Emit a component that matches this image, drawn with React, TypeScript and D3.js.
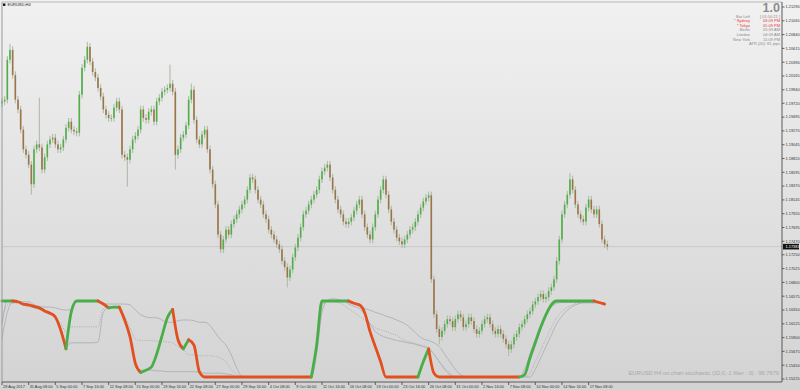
import React from 'react';
import * as d3 from 'd3';

const W = 800;
const H = 390;

// ---------- DATA ----------
const symbolTitle = 'EURUSD,H4';
const firstOpen = 1.1972;
const closes = [
  1.1975, 1.1978, 1.2043, 1.2059, 1.2018, 1.1978, 1.1962, 1.1929, 1.1897, 1.1888,
  1.1872, 1.1840, 1.1897, 1.1905, 1.1900, 1.1864, 1.1884, 1.1905, 1.1913, 1.1916,
  1.1905, 1.1897, 1.1900, 1.1913, 1.1932, 1.1942, 1.1929, 1.1926, 1.1924, 1.1986,
  1.2030, 1.2043, 1.2064, 1.2040, 1.2023, 1.2014, 1.1997, 1.1983, 1.1962, 1.1953,
  1.1948, 1.1948, 1.1965, 1.1975, 1.1962, 1.1888, 1.1884, 1.1880, 1.1897, 1.1913,
  1.1919, 1.1929, 1.1962, 1.1948, 1.1945, 1.1958, 1.1962, 1.1942, 1.1975, 1.1981,
  1.1991, 1.1994, 1.1997, 1.2004, 1.1991, 1.1888, 1.1897, 1.1916, 1.1921, 1.1936,
  1.1978, 1.1994, 1.1945, 1.1913, 1.1905, 1.1921, 1.1929, 1.1897, 1.1864, 1.1840,
  1.1807, 1.1758, 1.1734, 1.1750, 1.1766, 1.1758, 1.1775, 1.1783, 1.1791, 1.1799,
  1.1807, 1.1815, 1.1831, 1.1851, 1.1848, 1.1831, 1.1815, 1.1807, 1.1791, 1.1783,
  1.1766, 1.1758, 1.1750, 1.1742, 1.1734, 1.1715, 1.1705, 1.1688, 1.1701, 1.1721,
  1.1737, 1.1753, 1.1770, 1.1791, 1.1797, 1.1807, 1.1815, 1.1823, 1.1831, 1.1848,
  1.1861, 1.1867, 1.1872, 1.1851, 1.1831, 1.1815, 1.1799, 1.1791, 1.1779, 1.1775,
  1.1779, 1.1786, 1.1797, 1.1807, 1.1815, 1.1791, 1.1770, 1.1758, 1.1750, 1.1770,
  1.1791, 1.1815, 1.1831, 1.1848, 1.1823, 1.1799, 1.1779, 1.1766, 1.1753, 1.1747,
  1.1742, 1.1750, 1.1758, 1.1766, 1.1770, 1.1779, 1.1791, 1.1802, 1.1812, 1.1818,
  1.1822, 1.1685, 1.1628, 1.1604, 1.1591, 1.1601, 1.1612, 1.1620, 1.1617, 1.1607,
  1.1620, 1.1628, 1.1623, 1.1607, 1.1612, 1.1623, 1.1617, 1.1604, 1.1596, 1.1601,
  1.1612, 1.1620, 1.1623, 1.1612, 1.1601, 1.1596, 1.1604, 1.1596, 1.1588, 1.1579,
  1.1571, 1.1579, 1.1591, 1.1596, 1.1607, 1.1612, 1.1620, 1.1628, 1.1633, 1.1644,
  1.1649, 1.1656, 1.1661, 1.1653, 1.1656, 1.1666, 1.1672, 1.1685, 1.1715, 1.1750,
  1.1791, 1.1807, 1.1823, 1.1848, 1.1831, 1.1807, 1.1791, 1.1783, 1.1779, 1.1802,
  1.1815, 1.1799, 1.1791, 1.1799, 1.1775, 1.1750, 1.1742, 1.17383,
];
// notable wick extremes: [candle index, price]
const wickSpikes: [number, number][] = [
  [3, 1.2069], [11, 1.1823], [14, 1.1981], [32, 1.2072], [47, 1.1836],
  [63, 1.2035], [65, 1.1864], [71, 1.2004], [107, 1.1672], [164, 1.1579], [190, 1.1560], [213, 1.1858],
];
const wickSize = 0.0006;

const priceTicks = [
  1.21290, 1.21065, 1.20840, 1.20615, 1.20390, 1.20165, 1.19940, 1.19720, 1.19495, 1.19270,
  1.19045, 1.18820, 1.18595, 1.18370, 1.18145, 1.17920, 1.17695, 1.17470, 1.17250, 1.17025,
  1.16800, 1.16575, 1.16350, 1.16125, 1.15900, 1.15675, 1.15450, 1.15225,
];
const currentPrice = 1.17383;

const dateLabels = [
  '28 Aug 2017', '31 Aug 08:00', '5 Sep 00:00', '7 Sep 16:00', '12 Sep 08:00', '15 Sep 00:00',
  '19 Sep 16:00', '22 Sep 08:00', '27 Sep 00:00', '29 Sep 16:00', '4 Oct 08:00', '9 Oct 00:00',
  '11 Oct 16:00', '16 Oct 08:00', '19 Oct 00:00', '23 Oct 16:00', '26 Oct 08:00', '31 Oct 00:00',
  '2 Nov 16:00', '7 Nov 08:00', '10 Nov 00:00', '14 Nov 16:00', '17 Nov 08:00',
];

// stochastic (0..100) sampled every 2 candles
const stochMain = [
  100, 100, 100, 99, 96, 95, 93, 91, 87, 84, 79, 62, 37, 86, 100, 100, 100, 100, 100, 96,
  91, 92, 92, 75, 53, 18, 6, 9, 13, 30, 54, 78, 89, 49, 37, 49, 42, 7, 0, 0,
  0, 0, 0, 0, 0, 0, 0, 0, 0, 0, 0, 0, 0, 0, 0, 0, 0, 0, 0, 42,
  100, 100, 100, 100, 100, 100, 97, 95, 85, 60, 40, 20, 0, 0, 0, 0, 0, 0, 0, 20,
  37, 5, 0, 0, 0, 0, 0, 0, 0, 0, 0, 0, 0, 0, 0, 0, 0, 0, 3, 25,
  45, 65, 82, 95, 100, 100, 100, 100, 100, 100, 100, 100, 98, 96,
];
const stochUpper = [
  71, 100, 99, 99, 99, 99, 95, 93, 92, 92, 91, 89, 88, 89, 100, 100, 100, 100, 100, 97,
  96, 96, 96, 96, 95, 88, 82, 79, 78, 78, 75, 72, 72, 74, 75, 75, 74, 72, 72, 68,
  58, 49, 42, 29, 12, 1, 0, 0, 0, 0, 0, 0, 0, 0, 0, 0, 0, 0, 0, 30,
  85, 100, 103, 102, 100, 98, 96, 93, 90, 88, 85, 83, 80, 78, 75, 72, 68, 62, 55, 50,
  48, 45, 40, 30, 20, 10, 3, 0, 0, 0, 0, 0, 0, 0, 0, 0, 0, 0, 10, 30,
  50, 68, 82, 92, 97, 98, 98, 98, 98, 98, 98, 98, 98, 98,
];
const stochLower = [
  50, 85, 98, 98, 95, 93, 91, 89, 86, 83, 79, 62, 40, 45, 45, 45, 45, 45, 46, 85,
  91, 91, 91, 75, 53, 18, 9, 9, 9, 8, 8, 7, 7, 7, 7, 7, 7, 6, 5, 5,
  5, 5, 4, 3, 0, 0, 0, 0, 0, 0, 0, 0, 0, 0, 0, 0, 0, 0, 0, 40,
  95, 100, 100, 100, 100, 96, 93, 90, 82, 70, 60, 55, 52, 50, 48, 47, 45, 44, 42, 40,
  37, 30, 20, 10, 3, 0, 0, 0, 0, 0, 0, 0, 0, 0, 0, 0, 0, 0, 0, 0,
  10, 25, 40, 55, 70, 80, 88, 93, 96, 98, 98, 98, 98, 98,
];
const stochDotted = [
  70, 95, 97, 97, 94, 93, 91, 89, 85, 82, 77, 70, 60, 66, 66, 66, 66, 66, 66, 90,
  92, 91, 90, 80, 65, 50, 48, 48, 48, 47, 47, 46, 45, 40, 36, 29, 29, 28, 28, 28,
  27, 25, 20, 10, 3, 0, 0, 0, 0, 0, 0, 0, 0, 0, 0, 0, 0, 0, 0, 35,
  90, 100, 100, 98, 95, 90, 85, 80, 75, 70, 65, 62, 60, 57, 55, 50, 47, 45, 43, 41,
  39, 30, 20, 12, 5, 0, 0, 0, 0, 0, 0, 0, 0, 0, 0, 0, 0, 0, 0, 5,
  20, 35, 50, 65, 78, 86, 92, 95, 97, 97, 97, 97, 97, 97,
];

const infoRows: { label: string; value: string; red: boolean }[] = [
  { label: 'Bar Left', value: '[ 01:50:21 ]', red: false },
  { label: '* Sydney', value: '03:09 PM', red: true },
  { label: '* Tokyo', value: '01:09 PM', red: true },
  { label: 'Berlin', value: '05:09 AM', red: false },
  { label: 'London', value: '04:09 AM', red: false },
  { label: 'New York', value: '11:09 PM', red: false },
];
const atrText = 'ATR (20): 81 pips';
const bigValue = '1.0';
const stochCaption = 'EURUSD H4 on chart stochastic (32,0,-1 filter : 0) : 96.7679';

// ---------- LAYOUT ----------
const plotLeft = 2;
const plotRight = 782;
const plotTop = 2;
const plotBottom = 382;
const FONT = "'Liberation Sans', Arial, sans-serif";

export default function App() {
  const n = closes.length;
  const x = d3.scaleLinear().domain([0, n - 1]).range([2, 607.3]);
  const y = d3.scaleLinear().domain([1.15225, 1.2129]).range([379, 7]);
  const ys = d3.scaleLinear().domain([0, 100]).range([377, 301]);
  const stochX = (j: number) => x(j * 2);

  const spikeMap = new Map(wickSpikes);
  const candles = closes.map((c, i) => {
    const o = i === 0 ? firstOpen : closes[i - 1];
    let hi = Math.max(o, c) + wickSize;
    let lo = Math.min(o, c) - wickSize;
    const s = spikeMap.get(i);
    if (s !== undefined) {
      if (s > hi) hi = s;
      if (s < lo) lo = s;
    }
    return { i, o, c, hi, lo };
  });

  // colored stochastic runs
  const runs: { color: string; pts: number[] }[] = [];
  let prevColor = '#4aae48';
  for (let j = 1; j < stochMain.length; j++) {
    const d = stochMain[j] - stochMain[j - 1];
    const color = d > 0 ? '#4aae48' : d < 0 ? '#e2501f' : prevColor;
    if (runs.length && runs[runs.length - 1].color === color) {
      runs[runs.length - 1].pts.push(j);
    } else {
      runs.push({ color, pts: [j - 1, j] });
    }
    prevColor = color;
  }
  const lineGen = (arr: number[]) =>
    d3
      .line<number>()
      .x((j) => stochX(j))
      .y((j) => ys(arr[j]))
      .curve(d3.curveMonotoneX);
  const idx = stochMain.map((_, j) => j);

  const rowY = (k: number) => 17.6 + k * 4.6;

  return (
    <svg
      width={W}
      height={H}
      style={{ position: 'absolute', left: 0, top: 0, display: 'block' }}
      fontFamily={FONT}
    >
      <defs>
        <linearGradient id="bg" x1="0" y1="0" x2="0" y2="1">
          <stop offset="0" stopColor="#f1f1f1" />
          <stop offset="1" stopColor="#d3d3d3" />
        </linearGradient>
      </defs>
      <rect x={0} y={0} width={W} height={H} fill="url(#bg)" />

      {/* current price line */}
      <line x1={plotLeft} x2={plotRight} y1={y(currentPrice)} y2={y(currentPrice)} stroke="#c4c4c4" strokeWidth={0.8} />

      {/* stochastic grey lines */}
      <path d={lineGen(stochUpper)(idx) || ''} fill="none" stroke="#a7abb3" strokeWidth={0.8} />
      <path d={lineGen(stochLower)(idx) || ''} fill="none" stroke="#a7abb3" strokeWidth={0.8} />
      <path d={lineGen(stochDotted)(idx) || ''} fill="none" stroke="#a7abb3" strokeWidth={0.8} strokeDasharray="1.2,1.2" />

      {/* candles */}
      {candles.map((d) => {
        const cx = x(d.i);
        const up = d.c >= d.o;
        const top = y(Math.max(d.o, d.c));
        const bot = y(Math.min(d.o, d.c));
        return (
          <g key={d.i}>
            <line x1={cx} x2={cx} y1={y(d.hi)} y2={y(d.lo)} stroke="#a9b8a2" strokeWidth={1} />
            <rect
              x={cx - 0.8}
              y={top}
              width={1.6}
              height={Math.max(0.8, bot - top)}
              fill={up ? '#4fae46' : '#9c7448'}
            />
          </g>
        );
      })}

      {/* stochastic main thick line */}
      {runs.map((r, k) => (
        <path
          key={k}
          d={lineGen(stochMain)(r.pts) || ''}
          fill="none"
          stroke={r.color}
          strokeWidth={2.8}
          strokeLinecap="round"
          strokeLinejoin="round"
        />
      ))}

      {/* frame */}
      <line x1={plotLeft} x2={plotLeft} y1={plotTop} y2={plotBottom} stroke="#9a9a9a" strokeWidth={1} />
      <line x1={plotLeft} x2={plotRight} y1={plotTop} y2={plotTop} stroke="#b8b8b8" strokeWidth={1} />
      <line x1={plotRight} x2={plotRight} y1={plotTop} y2={plotBottom} stroke="#5a5a5a" strokeWidth={1} />
      <line x1={plotLeft} x2={plotRight} y1={plotBottom} y2={plotBottom} stroke="#5a5a5a" strokeWidth={1} />

      {/* title */}
      <rect x={3} y={3.5} width={2.4} height={2.4} fill="#111" />
      <text x={7.5} y={6.3} fontSize={4} fill="#222">{symbolTitle}</text>

      {/* price axis */}
      {priceTicks.map((p) => (
        <g key={p}>
          <line x1={plotRight} x2={plotRight + 2.5} y1={y(p)} y2={y(p)} stroke="#444" strokeWidth={0.8} />
          <text x={plotRight + 3.5} y={y(p) + 1.4} fontSize={3.9} fill="#333">{p.toFixed(5)}</text>
        </g>
      ))}
      <rect x={plotRight + 1} y={y(currentPrice) - 2.8} width={16} height={5.6} fill="#111" />
      <text x={plotRight + 3.5} y={y(currentPrice) + 1.4} fontSize={3.9} fill="#fff">{currentPrice.toFixed(5)}</text>

      {/* time axis */}
      {dateLabels.map((t, k) => (
        <g key={t}>
          <line x1={x(k * 10)} x2={x(k * 10)} y1={plotBottom} y2={plotBottom + 3} stroke="#444" strokeWidth={0.8} />
          <text x={x(k * 10) + 1} y={plotBottom + 5.5} fontSize={3.9} fill="#333">{t}</text>
        </g>
      ))}

      {/* info panel */}
      <text x={780} y={12.2} fontSize={12.5} fontWeight="bold" fill="#8c8c8c" textAnchor="end">{bigValue}</text>
      {infoRows.map((r, k) => (
        <g key={r.label}>
          <text x={750} y={rowY(k)} fontSize={4} fill={r.red ? '#e33' : '#8a8a8a'} textAnchor="end">{r.label}</text>
          <text x={780} y={rowY(k)} fontSize={4} fill={r.red ? '#e33' : '#8a8a8a'} textAnchor="end">{r.value}</text>
        </g>
      ))}
      <text x={780} y={rowY(6)} fontSize={4} fill="#8a8a8a" textAnchor="end">{atrText}</text>

      {/* stochastic caption */}
      <text x={779} y={375} fontSize={5.7} fill="#a8a8a8" textAnchor="end">{stochCaption}</text>
    </svg>
  );
}
